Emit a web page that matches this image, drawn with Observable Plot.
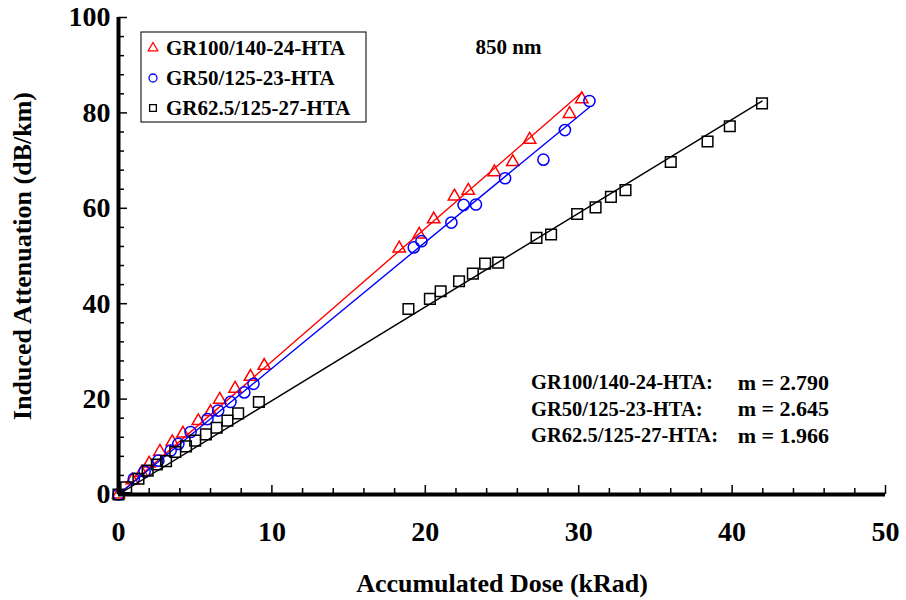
<!DOCTYPE html>
<html>
<head>
<meta charset="utf-8">
<script src="https://cdn.jsdelivr.net/npm/d3@7"></script>
<script src="https://cdn.jsdelivr.net/npm/@observablehq/plot@0.6"></script>
<style>
  html, body { margin: 0; padding: 0; background: #fff; }
  #chart { width: 906px; height: 600px; }
</style>
</head>
<body>
<div id="chart"></div>
<script>
// ---------- data ----------
const seriesNames = ["GR100/140-24-HTA", "GR50/125-23-HTA", "GR62.5/125-27-HTA"];
const seriesColors = ["#ff0000", "#0000ff", "#000000"];
const seriesSymbols = ["triangle", "circle", "square"];
const slopes = [2.790, 2.645, 1.966];
const slopeTexts = ["m = 2.790", "m = 2.645", "m = 1.966"];
const wavelengthLabel = "850 nm";

const gr100Dose = [0, 0.9, 1.5, 2.0, 2.7, 3.5, 4.2, 5.2, 6.0, 6.6, 7.6, 8.6, 9.5,
  18.3, 19.6, 20.55, 21.9, 22.8, 24.5, 25.7, 26.8, 29.4, 30.2];
const gr100Att = [0, 3.0, 4.6, 6.5, 9.0, 11.0, 12.8, 15.4, 17.3, 19.9, 22.2, 24.7, 27.0,
  51.6, 54.5, 57.7, 62.5, 63.7, 67.6, 69.7, 74.4, 79.8, 82.9];

const gr50Dose = [0, 1.0, 1.7, 2.6, 3.4, 3.9, 4.7, 5.8, 6.5, 7.3, 8.2, 8.8,
  19.25, 19.75, 21.7, 22.5, 23.3, 25.2, 27.7, 29.1, 30.7];
const gr50Att = [0, 3.3, 4.8, 7.1, 9.2, 10.6, 13.1, 15.8, 17.6, 19.4, 21.4, 23.2,
  51.8, 53.1, 57.0, 60.7, 60.8, 66.3, 70.2, 76.4, 82.5];

const gr62Dose = [0, 0.5, 1.3, 1.9, 2.5, 3.1, 3.7, 4.4, 5.0, 5.7, 6.4, 7.1, 7.8, 9.15,
  18.9, 20.3, 21.0, 22.2, 23.1, 23.9, 24.75, 27.25, 28.2, 29.9, 31.1, 32.1, 33.05, 36.0, 38.4, 39.85, 41.95];
const gr62Att = [0, 1.5, 3.3, 5.0, 6.3, 7.0, 8.9, 10.1, 11.3, 12.6, 14.0, 15.5, 17.0, 19.4,
  38.9, 41.0, 42.6, 44.7, 46.3, 48.4, 48.6, 53.8, 54.5, 58.8, 60.2, 62.4, 63.8, 69.7, 74.0, 77.2, 82.0];

const xTicks = [0, 10, 20, 30, 40, 50];
const yTicks = [0, 20, 40, 60, 80, 100];
const xMinorTicks = d3.range(0, 51, 2);
const yMinorTicks = d3.range(0, 101, 4);
const xTitle = "Accumulated Dose (kRad)";
const yTitle = "Induced Attenuation (dB/km)";

// ---------- layout ----------
const W = 906, H = 600, ML = 118, MR = 21, MT = 17, MB = 106;
const xDomain = [0, 50], yDomain = [0, 100];
const xPerPx = (xDomain[1] - xDomain[0]) / (W - ML - MR);
const yPerPx = (yDomain[1] - yDomain[0]) / (H - MT - MB);
const MINOR = 6, MAJOR = 9;

// ---------- build ----------
const FONT = "'Liberation Serif', 'Times New Roman', Times, serif";
const doses = [gr100Dose, gr50Dose, gr62Dose];
const atts = [gr100Att, gr50Att, gr62Att];
const symbolR = [4.6, 5.6, 6.0];

const seriesMarks = [];
doses.forEach((xs, i) => {
  const pts = xs.map((x, j) => ({x, y: atts[i][j]}));
  const xmax = d3.max(xs);
  const fit = [{x: 0, y: 0}, {x: xmax, y: slopes[i] * xmax}];
  seriesMarks.push(Plot.line(fit, {x: "x", y: "y", stroke: seriesColors[i], strokeWidth: 1.4}));
  seriesMarks.push(Plot.dot(pts, {x: "x", y: "y", symbol: seriesSymbols[i], r: symbolR[i],
    stroke: seriesColors[i], fill: "none", strokeWidth: 1.5}));
});

const xMinorOnly = xMinorTicks.filter(d => d % 10 !== 0);
const yMinorOnly = yMinorTicks.filter(d => d % 20 !== 0);

const plot = Plot.plot({
  width: W,
  height: H,
  marginLeft: ML,
  marginRight: MR,
  marginTop: MT,
  marginBottom: MB,
  style: {fontFamily: FONT, background: "#fff", color: "#000", overflow: "visible"},
  x: {domain: xDomain},
  y: {domain: yDomain},
  marks: [
    // inward ticks
    Plot.ruleX(xMinorOnly, {x: d => d, y1: 0, y2: MINOR * yPerPx, stroke: "#000", strokeWidth: 1.5}),
    Plot.ruleX(xTicks, {x: d => d, y1: 0, y2: MAJOR * yPerPx, stroke: "#000", strokeWidth: 1.5}),
    Plot.ruleY(yMinorOnly, {y: d => d, x1: 0, x2: MINOR * xPerPx, stroke: "#000", strokeWidth: 1.5}),
    Plot.ruleY(yTicks, {y: d => d, x1: 0, x2: MAJOR * xPerPx, stroke: "#000", strokeWidth: 1.5}),
    Plot.axisX({ticks: xTicks, tickSize: 0, tickPadding: 27, fontSize: 28, fontWeight: "bold", label: null}),
    Plot.axisY({ticks: yTicks, tickSize: 0, tickPadding: 8, fontSize: 28, fontWeight: "bold", label: null}),
    Plot.text([xTitle], {text: d => d, frameAnchor: "bottom", dy: 89, fontSize: 26, fontWeight: "bold", lineAnchor: "middle", textAnchor: "middle"}),
    Plot.text([yTitle], {text: d => d, frameAnchor: "left", dx: -96, rotate: -90, fontSize: 26, fontWeight: "bold", lineAnchor: "middle", textAnchor: "middle"}),
    ...seriesMarks,
    Plot.ruleX([0], {stroke: "#000", strokeWidth: 4}),
    Plot.ruleY([0], {stroke: "#000", strokeWidth: 4}),
    Plot.text([wavelengthLabel], {text: d => d, frameAnchor: "top-left", dx: 390, dy: 30, fontSize: 21, fontWeight: "bold", textAnchor: "middle", lineAnchor: "middle"})
  ]
});

document.getElementById("chart").appendChild(plot);

// ---------- legend & slope annotations ----------
const svg = d3.select(plot);
const lg = svg.append("g").attr("font-family", FONT).attr("font-weight", "bold").attr("text-anchor", "start");
lg.append("rect").attr("x", 141).attr("y", 32).attr("width", 225).attr("height", 90)
  .attr("fill", "#fff").attr("stroke", "#222").attr("stroke-width", 1.2);
const d3Sym = {triangle: d3.symbolTriangle, circle: d3.symbolCircle, square: d3.symbolSquare};
seriesNames.forEach((name, i) => {
  const cy = 48 + i * 30;
  lg.append("path")
    .attr("transform", `translate(153,${cy})`)
    .attr("d", d3.symbol(d3Sym[seriesSymbols[i]], [40, 50, 45][i])())
    .attr("fill", "none").attr("stroke", seriesColors[i]).attr("stroke-width", 1.3);
  lg.append("text").attr("x", 166).attr("y", cy).attr("dy", "0.35em")
    .attr("font-size", 21).attr("fill", "#000").attr("text-anchor", "start").text(name);
});

const ann = svg.append("g").attr("font-family", FONT).attr("font-weight", "bold").attr("fill", "#000");
seriesNames.forEach((name, i) => {
  const y = 382 + i * 26.5;
  ann.append("text").attr("x", 531).attr("y", y).attr("dy", "0.35em").attr("font-size", 20.5)
    .attr("text-anchor", "start").text(name + ":");
  ann.append("text").attr("x", 829).attr("y", y).attr("dy", "0.35em").attr("font-size", 22)
    .attr("text-anchor", "end").text(slopeTexts[i]);
});
</script>
</body>
</html>
